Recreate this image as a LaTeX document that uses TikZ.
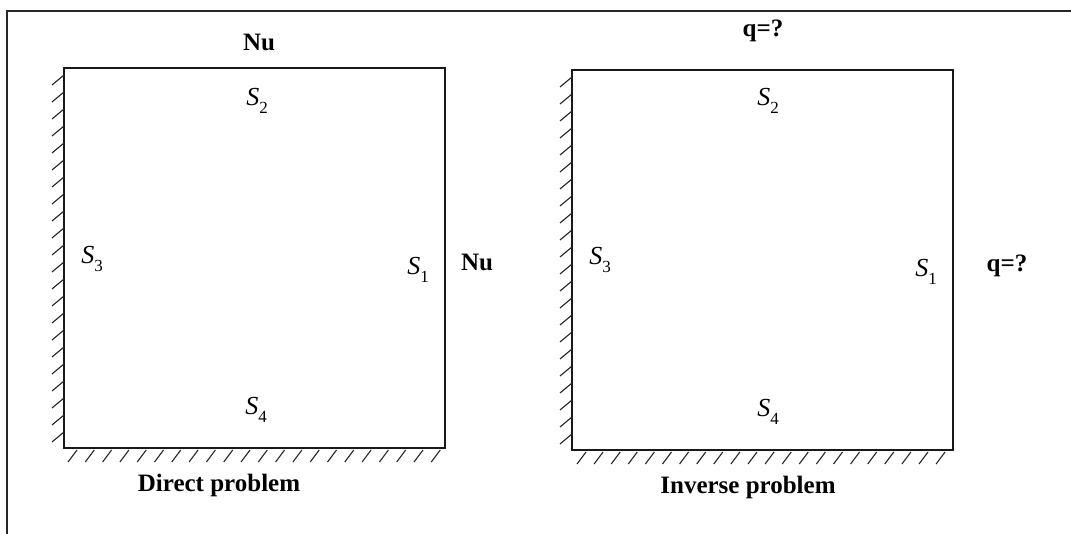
\documentclass[tikz,border=0pt]{standalone}
\usepackage{fontspec}
\setmainfont{Liberation Serif}
\newcommand{\surf}[1]{{\fontsize{26}{30}\selectfont\itshape S}\raisebox{-8pt}{\fontsize{17}{20}\selectfont #1}}

\begin{document}
\begin{tikzpicture}[x=1pt, y=-1pt,
  regionbox/.style={rectangle, draw=black!90, line width=1.8pt, minimum width=381pt,
                 minimum height=380pt, inner sep=0pt, outer sep=0pt},
  hatch/.style={draw=black!85, line width=1.1pt},
  title/.style={font=\fontsize{25}{30}\selectfont\bfseries, inner sep=0pt},
  surface/.style={inner sep=0pt}]
  \useasboundingbox (0,0) rectangle (1071,534);
  % frame
  \draw[black!85, line width=1.8pt] (7,534) -- (7,11) -- (1071,11);
  % the two regions
  \node[regionbox] (dir) at (254.5,258) {};
  \node[regionbox] (inv) at (762.5,260) {};
  % fixed walls
  \foreach \k in {0,...,21} {
    \draw[hatch] (dir.north west) ++(0,7+17*\k) -- ++(-12,10);
    \draw[hatch] (dir.south west) ++(13+17.3*\k,2) -- ++(-9,12);
    \draw[hatch] (inv.north west) ++(0,7+17*\k) -- ++(-12,10);
    \draw[hatch] (inv.south west) ++(14+17.1*\k,2) -- ++(-9,12);
  }
  % direct problem
  \node[title] (nuTop) at (259,42) {Nu};
  \node[title] (nuSide) at (477,262) {Nu};
  \node[surface] (s2Dir) at (257,101) {\surf{2}};
  \node[surface] (s3Dir) at (92,259) {\surf{3}};
  \node[surface] (s1Dir) at (418,270) {\surf{1}};
  \node[surface] (s4Dir) at (256,410) {\surf{4}};
  \node[title] (dirName) at (219,485) {Direct problem};
  % inverse problem
  \node[title] (qTop) at (763,31) {q=?};
  \node[title] (qSide) at (1007,266) {q=?};
  \node[surface] (s2Inv) at (768,101) {\surf{2}};
  \node[surface] (s3Inv) at (600,260) {\surf{3}};
  \node[surface] (s1Inv) at (926,272) {\surf{1}};
  \node[surface] (s4Inv) at (768,412) {\surf{4}};
  \node[title] (invName) at (748,487) {Inverse problem};
\end{tikzpicture}
\end{document}
